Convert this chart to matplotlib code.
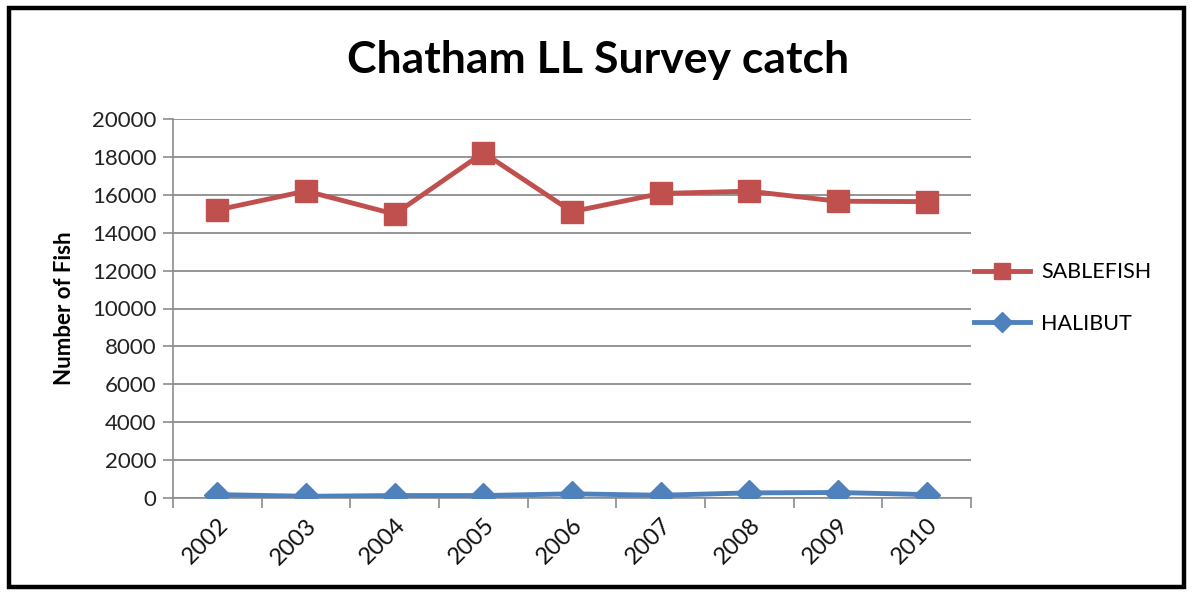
import matplotlib
matplotlib.use("Agg")
import matplotlib.pyplot as plt
from matplotlib.patches import Rectangle
from matplotlib.lines import Line2D

years = ["2002", "2003", "2004", "2005", "2006", "2007", "2008", "2009", "2010"]
sablefish = [15200, 16200, 14980, 18220, 15110, 16070, 16190, 15660, 15640]
halibut = [180, 90, 130, 130, 220, 145, 270, 290, 180]
yticks = [0, 2000, 4000, 6000, 8000, 10000, 12000, 14000, 16000, 18000, 20000]

FONT = ["Lato", "DejaVu Sans"]
RED = "#C0504D"
BLUE = "#4F81BD"
GRID = "#8C8C8C"

fig = plt.figure(figsize=(11.92, 5.93), dpi=100)
ax = fig.add_axes([173 / 1192, 1 - 498 / 593, (971 - 173) / 1192, (498 - 119) / 593])

x = list(range(len(years)))
ax.plot(x, sablefish, color=RED, lw=3.5, marker="s", ms=16, mec=RED, mfc=RED,
        label="SABLEFISH", zorder=3)
ax.plot(x, halibut, color=BLUE, lw=3.5, marker="D", ms=13, mec=BLUE, mfc=BLUE,
        label="HALIBUT", zorder=3)

ax.set_xlim(-0.5, len(years) - 0.5)
ax.set_ylim(0, 20000)
ax.set_yticks(yticks)
ax.set_yticklabels([str(v) for v in yticks], fontfamily=FONT, fontsize=16, color="#222222")
ax.set_xticks(x)
ax.set_xticklabels(years, rotation=45, ha="right", rotation_mode="anchor",
                   fontfamily=FONT, fontsize=17, color="#111111")
ax.tick_params(axis="x", length=0, pad=12)
ax.set_xticks([i - 0.5 for i in range(len(years) + 1)], minor=True)
ax.tick_params(axis="x", which="minor", length=7, color=GRID, width=1.2)
ax.tick_params(axis="y", length=7, color=GRID, width=1.2, pad=5)

ax.grid(axis="y", color=GRID, lw=1.3, zorder=0)
for side in ("top", "right"):
    ax.spines[side].set_visible(False)
for side in ("left", "bottom"):
    ax.spines[side].set_color(GRID)
    ax.spines[side].set_linewidth(1.2)

ax.set_ylabel("Number of Fish", fontfamily=FONT, fontsize=16, fontweight="bold", labelpad=12)

fig.text(598 / 1192, 1 - 60 / 593, "Chatham LL Survey catch", ha="center", va="center",
         fontfamily=FONT, fontsize=32, fontweight="bold")

handles = [
    Line2D([], [], color=RED, lw=3.5, marker="s", ms=12, mec=RED, mfc=RED),
    Line2D([], [], color=BLUE, lw=3.5, marker="D", ms=10, mec=BLUE, mfc=BLUE),
]
leg = fig.legend(handles, ["SABLEFISH", "HALIBUT"], loc="center left",
                 bbox_to_anchor=(955 / 1192, 1 - 298 / 593), frameon=False,
                 prop={"family": FONT, "size": 15.5}, handlelength=2.6,
                 labelspacing=1.45, handletextpad=0.5)

fig.patches.append(Rectangle((9 / 1192, 1 - 587 / 593), 1175 / 1192, 579 / 593,
                             transform=fig.transFigure, fill=False, ec="black", lw=3.2))

fig.savefig("out.png", dpi=100)
